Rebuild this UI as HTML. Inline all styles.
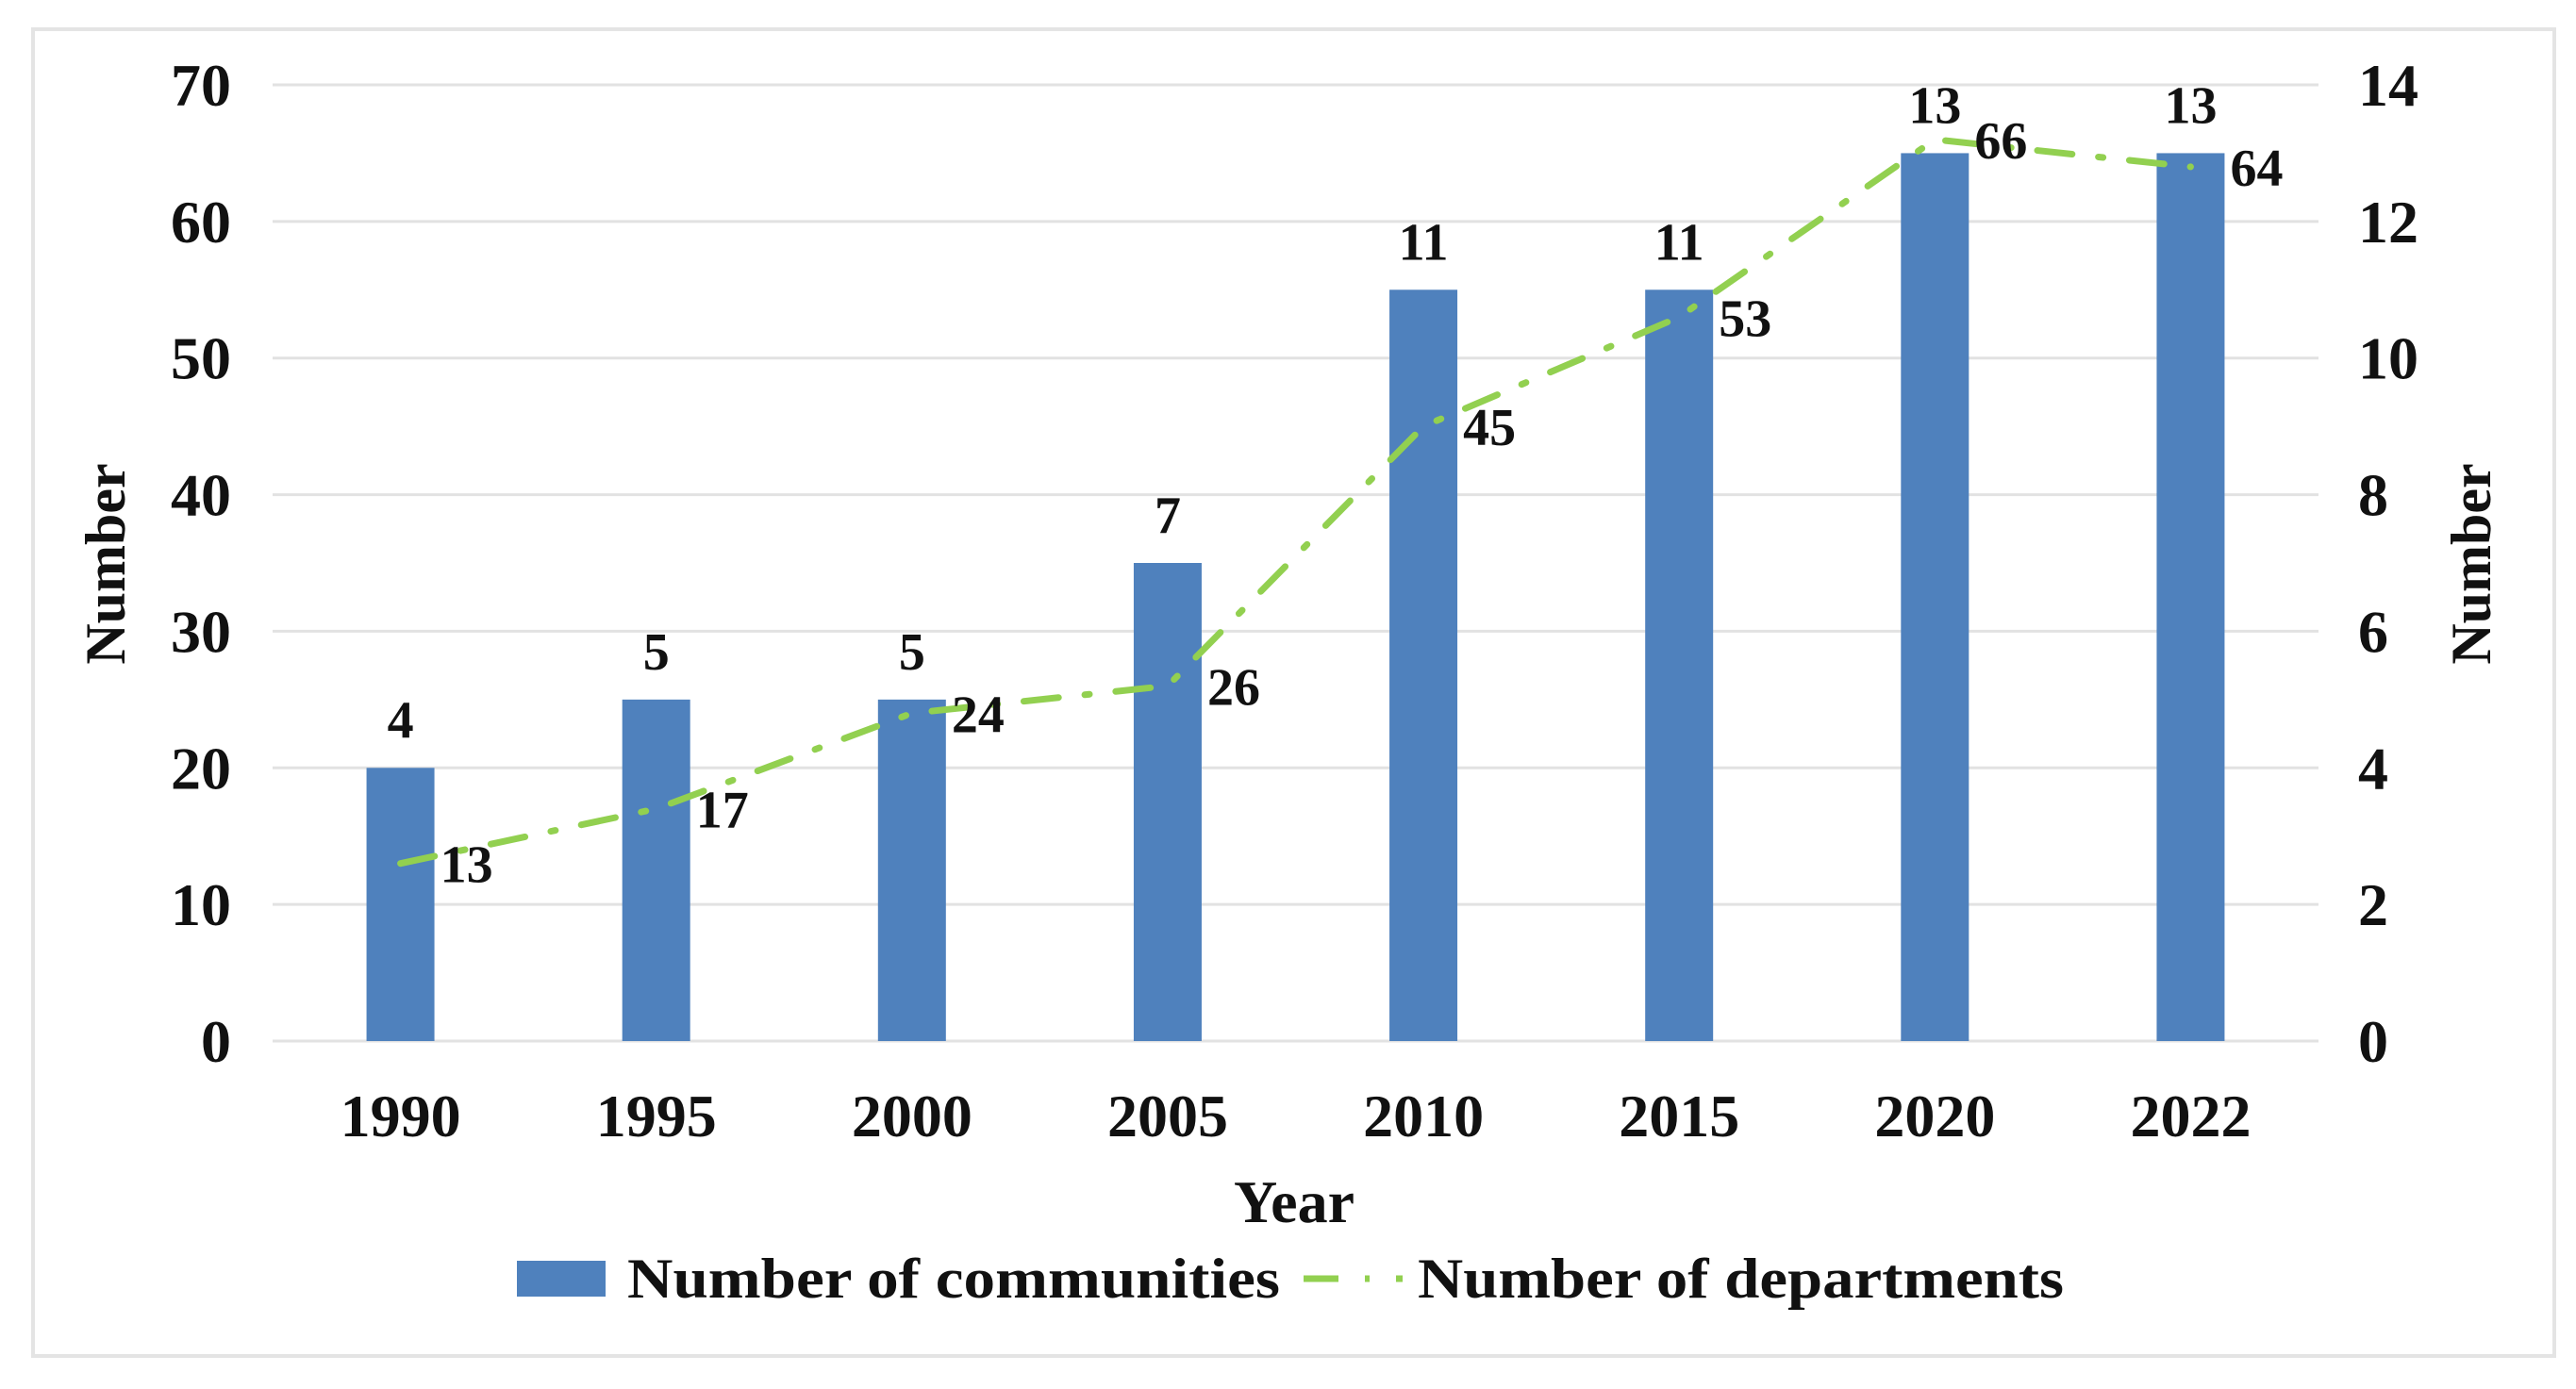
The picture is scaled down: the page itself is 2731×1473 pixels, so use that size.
<!DOCTYPE html>
<html><head><meta charset="utf-8"><style>
html,body{margin:0;padding:0;background:#fff;}
svg{display:block;}
text{font-family:"Liberation Serif",serif;font-weight:bold;fill:#111;}
</style></head><body>
<svg id="chart" width="2731" height="1473" viewBox="0 0 2731 1473" xmlns="http://www.w3.org/2000/svg">
<rect x="35" y="31" width="2673" height="1407" fill="#fff" stroke="#e4e4e4" stroke-width="4"/>
<g id="grid"></g><g id="bars"></g><g id="line"></g><g id="labels"></g>
<text transform="translate(132,598) rotate(-90)" text-anchor="middle" font-size="60">Number</text>
<text transform="translate(2640,598) rotate(-90)" text-anchor="middle" font-size="60">Number</text>
<text x="1372" y="1296" text-anchor="middle" font-size="64">Year</text>
<rect x="548" y="1337" width="94" height="38" fill="#4F81BD"/>
<text x="665" y="1376" font-size="60" textLength="692" lengthAdjust="spacingAndGlyphs">Number of communities</text>
<line x1="1382" y1="1356" x2="1487" y2="1356" stroke="#92D050" stroke-width="7" stroke-dasharray="37 28 5 28"/>
<text x="1503" y="1376" font-size="60" textLength="685" lengthAdjust="spacingAndGlyphs">Number of departments</text>
</svg>
<script>
const categories=["1990","1995","2000","2005","2010","2015","2020","2022"];
const communities=[4,5,5,7,11,11,13,13];
const departments=[13,17,24,26,45,53,66,64];
const leftTicks=[0,10,20,30,40,50,60,70];
const rightTicks=[0,2,4,6,8,10,12,14];
const NS="http://www.w3.org/2000/svg";
const plotL=289,plotR=2458,y0=1104,y70=90;
const yL=v=>y0-(v/70)*(y0-y70);
const yR=v=>y0-(v/14)*(y0-y70);
const band=(plotR-plotL)/categories.length;
const xC=i=>plotL+band*(i+0.5);
function mk(tag,attrs,parent,txt){const e=document.createElementNS(NS,tag);for(const k in attrs)e.setAttribute(k,attrs[k]);if(txt!==undefined)e.textContent=txt;document.getElementById(parent).appendChild(e);return e;}
leftTicks.forEach(t=>{
 const g=mk('line',{x1:plotL,x2:plotR,y1:yL(t),y2:yL(t),stroke:'#e2e2e2','stroke-width':3},'grid');
 
 
 const tx=mk('text',{x:245,y:yL(t)+22,'text-anchor':'end','font-size':64},'grid',t);
 
 
});
rightTicks.forEach(t=>{
 const tx=mk('text',{x:2500,y:yR(t)+22,'text-anchor':'start','font-size':64},'grid',t);
 
 
});
categories.forEach((c,i)=>{
 const tx=mk('text',{x:xC(i),y:1205,'text-anchor':'middle','font-size':64},'labels',c);
 
 
});
const bw=72;
communities.forEach((v,i)=>{
 const b=mk('rect',{x:xC(i)-bw/2,y:yR(v),width:bw,height:y0-yR(v),fill:'#4F81BD'},'bars');
 
 
 const t=mk('text',{x:xC(i),y:yR(v)-32,'text-anchor':'middle','font-size':56},'labels',v);
 
 
});
const pts=departments.map((v,i)=>xC(i)+','+yL(v)).join(' ');
const pl=mk('polyline',{points:pts,fill:'none',stroke:'#92D050','stroke-width':7,'stroke-dasharray':'37 28 5 28','stroke-linecap':'round'},'line');


departments.forEach((v,i)=>{
 const t=mk('text',{x:xC(i)+42,y:yL(v)+20,'text-anchor':'start','font-size':56},'labels',v);
 
 
});
</script>
</body></html>
